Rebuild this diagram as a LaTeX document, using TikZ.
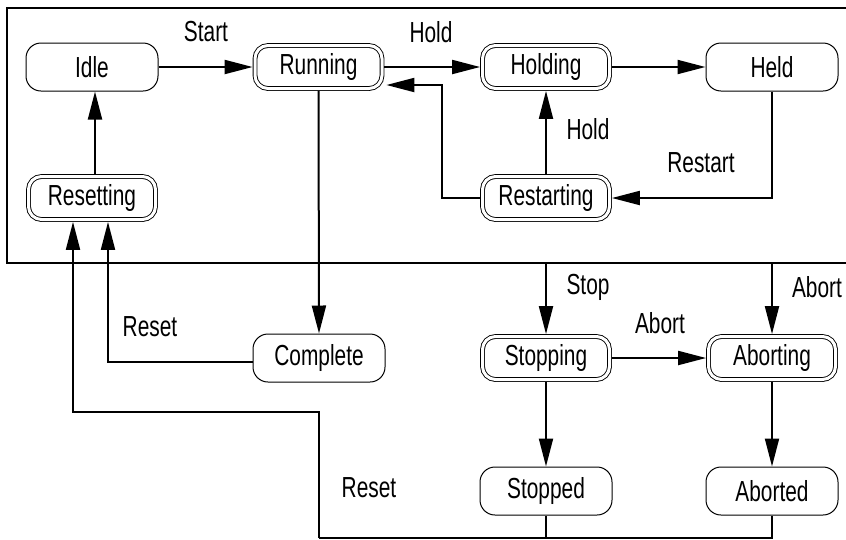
\documentclass[tikz,border=0pt]{standalone}
\usepackage{fontspec}
\setmainfont[FakeStretch=0.72]{Liberation Sans}
\usetikzlibrary{arrows.meta}
\begin{document}
\begin{tikzpicture}[x=1pt,y=-1pt,
  font=\fontsize{29}{31}\selectfont,
  state/.style={draw, line width=1pt, rounded corners=15pt, minimum width=132pt, minimum height=48pt, inner sep=0pt, outer sep=0.5pt},
  dstate/.style={draw, line width=0.9pt, double, double distance=3pt, rounded corners=13pt, minimum width=127pt, minimum height=43pt, inner sep=0pt, outer sep=2.4pt},
  conn/.style={line width=2pt},
  arr/.style={conn, -{Triangle[length=28pt,width=14pt]}},
  lbl/.style={inner sep=0pt}
]
\useasboundingbox (0,0) rectangle (846,539);
% frame
\draw[line width=2.5pt] (846,8) -- (7,8) -- (7,263) -- (846,263);
% nodes
\node[state]  (idle)       at (92,67)   {Idle};
\node[dstate] (running)    at (318.5,67) {Running};
\node[dstate] (holding)    at (546,67)  {Holding};
\node[state]  (held)       at (772,67)  {Held};
\node[dstate] (resetting)  at (92,198)  {Resetting};
\node[dstate] (restarting) at (546,198) {Restarting};
\node[state]  (complete)   at (319,358) {Complete};
\node[dstate] (stopping)   at (546,358) {Stopping};
\node[dstate] (aborting)   at (772,358) {Aborting};
\node[state]  (stopped)    at (546,491) {Stopped};
\node[state]  (aborted)    at (772,491) {Aborted};
% coordinates
\coordinate (stopin)  at (546,263);
\coordinate (abortin) at (772,263);
\coordinate (rsA) at (442,85);
\coordinate (botL) at (319,538);
\coordinate (botR) at (772,538);
\coordinate (midL) at (319,412);
\coordinate (cmpL) at (108,362);
% connectors
\draw[arr] (idle.east) -- (running.west);
\draw[arr] (running.east) -- (holding.west);
\draw[arr] (holding.east) -- (held.west);
\draw[arr] (held.south) |- (restarting.east);
\draw[arr] (restarting.north) -- (holding.south);
\draw[arr] (restarting.west) -| (rsA) -- ([xshift=2pt,yshift=-18pt]running.east);
\draw[arr] ([xshift=3pt]resetting.north) -- ([xshift=3pt]idle.south);
\draw[arr] (running.south) -- (complete.north);
\draw[arr] ([yshift=-4pt]complete.west) -| ([xshift=16pt]resetting.south);
\draw[conn] (stopped.south) -- (stopped.south |- botR);
\draw[conn] (aborted.south) -- (botR) -- (botL);
\draw[arr] (botL) -- (midL) -| ([xshift=-19pt]resetting.south);
\draw[arr] (stopin) -- (stopping.north);
\draw[arr] (abortin) -- (aborting.north);
\draw[arr] (stopping.east) -- (aborting.west);
\draw[arr] (stopping.south) -- (stopped.north);
\draw[arr] (aborting.south) -- (aborted.north);
% labels
\node[lbl] (lstart)   at (206,32)  {Start};
\node[lbl] (lhold1)   at (431,32)  {Hold};
\node[lbl] (lhold2)   at (588,129) {Hold};
\node[lbl] (lrestart) at (701,163) {Restart};
\node[lbl] (lreset1)  at (150,327) {Reset};
\node[lbl] (lreset2)  at (369,488) {Reset};
\node[lbl] (lstop)    at (588,287) {Stop};
\node[lbl] (labort1)  at (660,323) {Abort};
\node[lbl] (labort2)  at (817,287) {Abort};
\end{tikzpicture}
\end{document}
